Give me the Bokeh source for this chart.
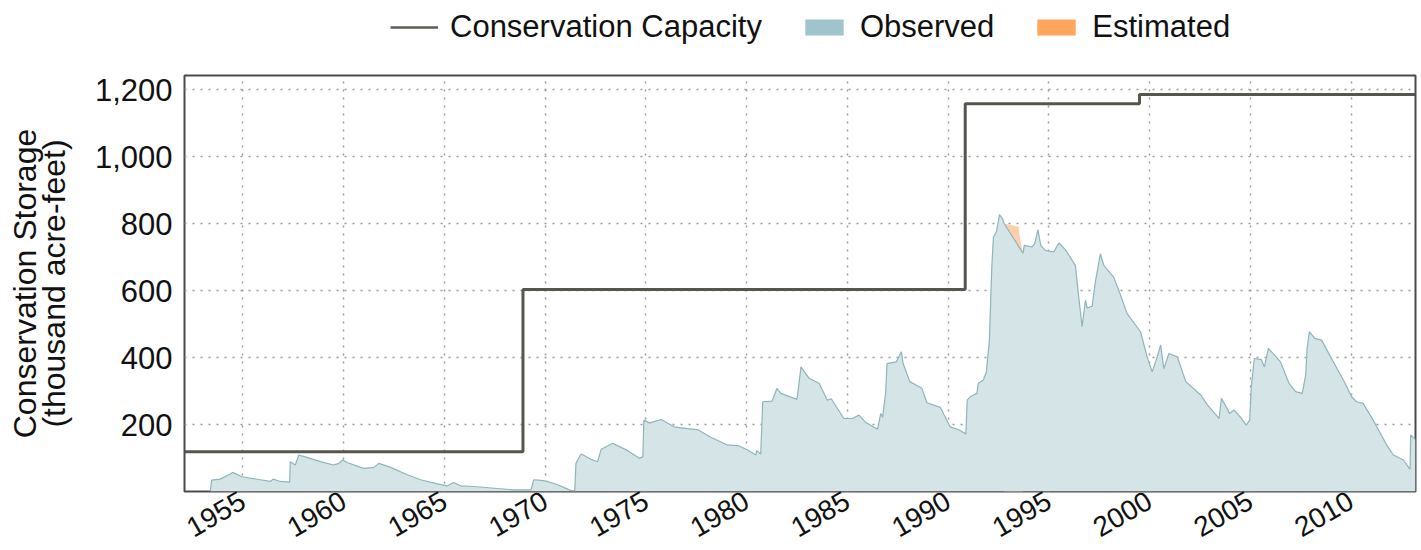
from math import radians
from bokeh.plotting import figure
from bokeh.layouts import column
from bokeh.models import Range1d, FixedTicker, NumeralTickFormatter, Legend, LegendItem
from bokeh.embed import file_html
from bokeh.resources import INLINE

# ---- data ----
cap_year = [1952.1, 1968.9, 1990.85, 1999.5, 2013.2]
cap_value = [119, 603, 1158, 1185, 1185]

obs_year = [1953.38, 1953.45, 1953.87, 1954.37, 1954.49, 1954.96, 1955.86, 1956.36, 1956.5, 1956.86,
            1957.32, 1957.35, 1957.6, 1957.77, 1958.18, 1958.85, 1959.5, 1959.76, 1959.95, 1960.2,
            1961.0, 1961.5, 1961.75, 1962.33, 1963.16, 1963.82, 1964.65, 1965.15, 1965.45, 1965.8,
            1966.47, 1967.63, 1968.46, 1969.3, 1969.43, 1969.8, 1970.12, 1970.62, 1971.2, 1971.4,
            1971.47, 1971.53, 1971.75, 1971.8, 1972.28, 1972.6, 1972.78, 1973.0, 1973.35, 1974.1,
            1974.68, 1974.85, 1974.9, 1975.18, 1975.77, 1976.4, 1977.06, 1977.56, 1978.22, 1979.05,
            1979.63, 1980.05, 1980.46, 1980.5, 1980.7, 1980.8, 1981.27, 1981.5, 1981.7, 1982.5,
            1982.7, 1983.1, 1983.6, 1984.0, 1984.2, 1984.83, 1985.25, 1985.58, 1985.9, 1986.5,
            1986.66, 1986.75, 1986.9, 1986.97, 1987.43, 1987.68, 1987.77, 1988.1, 1988.7, 1988.95,
            1989.62, 1990.1, 1990.5, 1990.88, 1990.95, 1991.1, 1991.43, 1991.5, 1991.75, 1991.9,
            1992.05, 1992.17, 1992.25, 1992.4, 1992.55, 1992.7, 1992.78, 1993.72, 1993.78, 1994.16,
            1994.3, 1994.46, 1994.6, 1994.83, 1995.24, 1995.5, 1995.82, 1996.32, 1996.43, 1996.65,
            1996.82, 1996.9, 1997.15, 1997.31, 1997.56, 1997.73, 1998.22, 1998.47, 1998.89, 1999.55,
            1999.88, 2000.13, 2000.38, 2000.55, 2000.71, 2000.96, 2001.38, 2001.8, 2002.54, 2002.88,
            2003.45, 2003.57, 2003.85, 2003.97, 2004.2, 2004.5, 2004.8, 2004.97, 2005.05, 2005.2,
            2005.55, 2005.7, 2005.9, 2006.5, 2006.92, 2007.25, 2007.58, 2007.75, 2007.82, 2007.93,
            2008.2, 2008.54, 2009.12, 2009.62, 2010.03, 2010.28, 2010.6, 2011.1, 2011.77, 2012.1,
            2012.6, 2012.93, 2012.96, 2013.2]
obs_value = [0, 34, 37, 52, 57, 44, 35, 30, 37, 30,
             28, 89, 79, 109, 102, 89, 79, 84, 94, 86,
             69, 72, 84, 72, 50, 35, 23, 17, 27, 17,
             15, 9, 5, 5, 35, 33, 30, 20, 5, 0,
             0, 84, 109, 112, 96, 89, 126, 133, 144, 122,
             99, 104, 213, 205, 215, 193, 188, 185, 162, 139,
             136, 124, 109, 122, 112, 268, 270, 308, 293, 275,
             372, 338, 323, 273, 277, 218, 218, 228, 207, 186,
             233, 222, 293, 382, 387, 417, 382, 328, 308, 265,
             251, 193, 185, 172, 273, 283, 293, 323, 333, 357,
             452, 670, 760, 775, 827, 815, 800, 711, 735, 730,
             740, 782, 735, 720, 715, 742, 722, 675, 611, 492,
             571, 548, 553, 626, 710, 675, 640, 601, 531, 477,
             402, 357, 402, 437, 367, 412, 402, 328, 288, 258,
             218, 278, 248, 233, 243, 223, 198, 213, 313, 397,
             394, 372, 427, 387, 323, 298, 293, 348, 427, 477,
             457, 452, 387, 333, 283, 268, 263, 213, 139, 109,
             94, 66, 169, 154]

est_year = [1992.78, 1993.0, 1993.5, 1993.58, 1993.72]
est_value = [800, 797, 791, 750, 711]

x_ticks = [1955, 1960, 1965, 1970, 1975, 1980, 1985, 1990, 1995, 2000, 2005, 2010]
y_ticks = [200, 400, 600, 800, 1000, 1200]

# one-point series for the legend-only strip (a single point draws no mark)
legend_dummy = [0.5]

FONT = "Liberation Sans"
TOTAL_W, TOTAL_H = 1421, 550
LEG_H = 65

# ---------------- legend strip (own figure above the chart) ----------------
lf = figure(width=TOTAL_W, height=LEG_H, x_range=Range1d(0, 1), y_range=Range1d(0, 1),
            output_backend="svg", toolbar_location=None,
            x_axis_location=None, y_axis_location=None,
            min_border_left=0, min_border_right=0, min_border_top=0, min_border_bottom=0)
lf.outline_line_alpha = 0
lf.grid.visible = False
r_cap = lf.line(x=legend_dummy, y=legend_dummy, line_color="#5c5c56", line_width=2.5)
r_obs = lf.varea(x=legend_dummy, y1=legend_dummy, y2=legend_dummy, fill_color="#9fc4cb")
r_est = lf.varea(x=legend_dummy, y1=legend_dummy, y2=legend_dummy, fill_color="#ffa65c")
leg = Legend(items=[LegendItem(label="Conservation Capacity", renderers=[r_cap]),
                    LegendItem(label="Observed", renderers=[r_obs]),
                    LegendItem(label="Estimated", renderers=[r_est])],
             location=(206, LEG_H - 45), orientation="horizontal",
             glyph_width=48, glyph_height=20, label_standoff=12, spacing=38)
leg.padding = 0
leg.margin = 0
leg.border_line_alpha = 0
leg.background_fill_alpha = 0
leg.label_text_font_size = "31px"
leg.label_text_font = FONT
leg.label_text_color = "#111111"
lf.add_layout(leg)

# ---------------- main chart ----------------
p = figure(width=TOTAL_W, height=TOTAL_H - LEG_H,
           x_range=Range1d(1952.1, 2013.2), y_range=Range1d(0, 1242),
           output_backend="svg", toolbar_location=None,
           min_border_left=184, min_border_right=6, min_border_top=75 - LEG_H, min_border_bottom=59)

p.varea(x=est_year, y1=0, y2=est_value, fill_color="#fbd0aa")
p.varea(x=obs_year, y1=0, y2=obs_value, fill_color="#d5e4e7")
p.line(obs_year, obs_value, line_color="#8fb4bb", line_width=1.2)
p.step(cap_year, cap_value, mode="after", line_color="#56564f", line_width=3)

p.xaxis.ticker = FixedTicker(ticks=x_ticks)
p.yaxis.ticker = FixedTicker(ticks=y_ticks)
p.yaxis.formatter = NumeralTickFormatter(format="0,0")
for ax in (p.xaxis, p.yaxis):
    ax.axis_line_alpha = 0
    ax.major_tick_line_alpha = 0
    ax.minor_tick_line_alpha = 0
    ax.major_tick_out = 0
    ax.major_tick_in = 0
    ax.major_label_text_font = FONT
    ax.major_label_text_color = "#111111"
p.xaxis.major_label_orientation = radians(30)
p.xaxis.major_label_text_font_size = "28px"
p.xaxis.major_label_standoff = 7
p.yaxis.major_label_text_font_size = "31px"
p.yaxis.major_label_standoff = 12
p.yaxis.axis_label = "Conservation Storage\n(thousand acre-feet)"
p.yaxis.axis_label_text_font = FONT
p.yaxis.axis_label_text_font_size = "32px"
p.yaxis.axis_label_text_line_height = 0.8
p.yaxis.axis_label_text_font_style = "normal"
p.yaxis.axis_label_text_color = "#111111"
p.yaxis.axis_label_standoff = 20

p.grid.grid_line_color = "#9a9a9a"
p.grid.grid_line_dash = "2 6"
p.grid.grid_line_width = 1.5

p.outline_line_color = "#4a4a4a"
p.outline_line_width = 2
p.background_fill_color = "white"
p.border_fill_color = "white"

layout = column(lf, p, spacing=0)
open("out.html", "w").write(file_html(layout, INLINE))
